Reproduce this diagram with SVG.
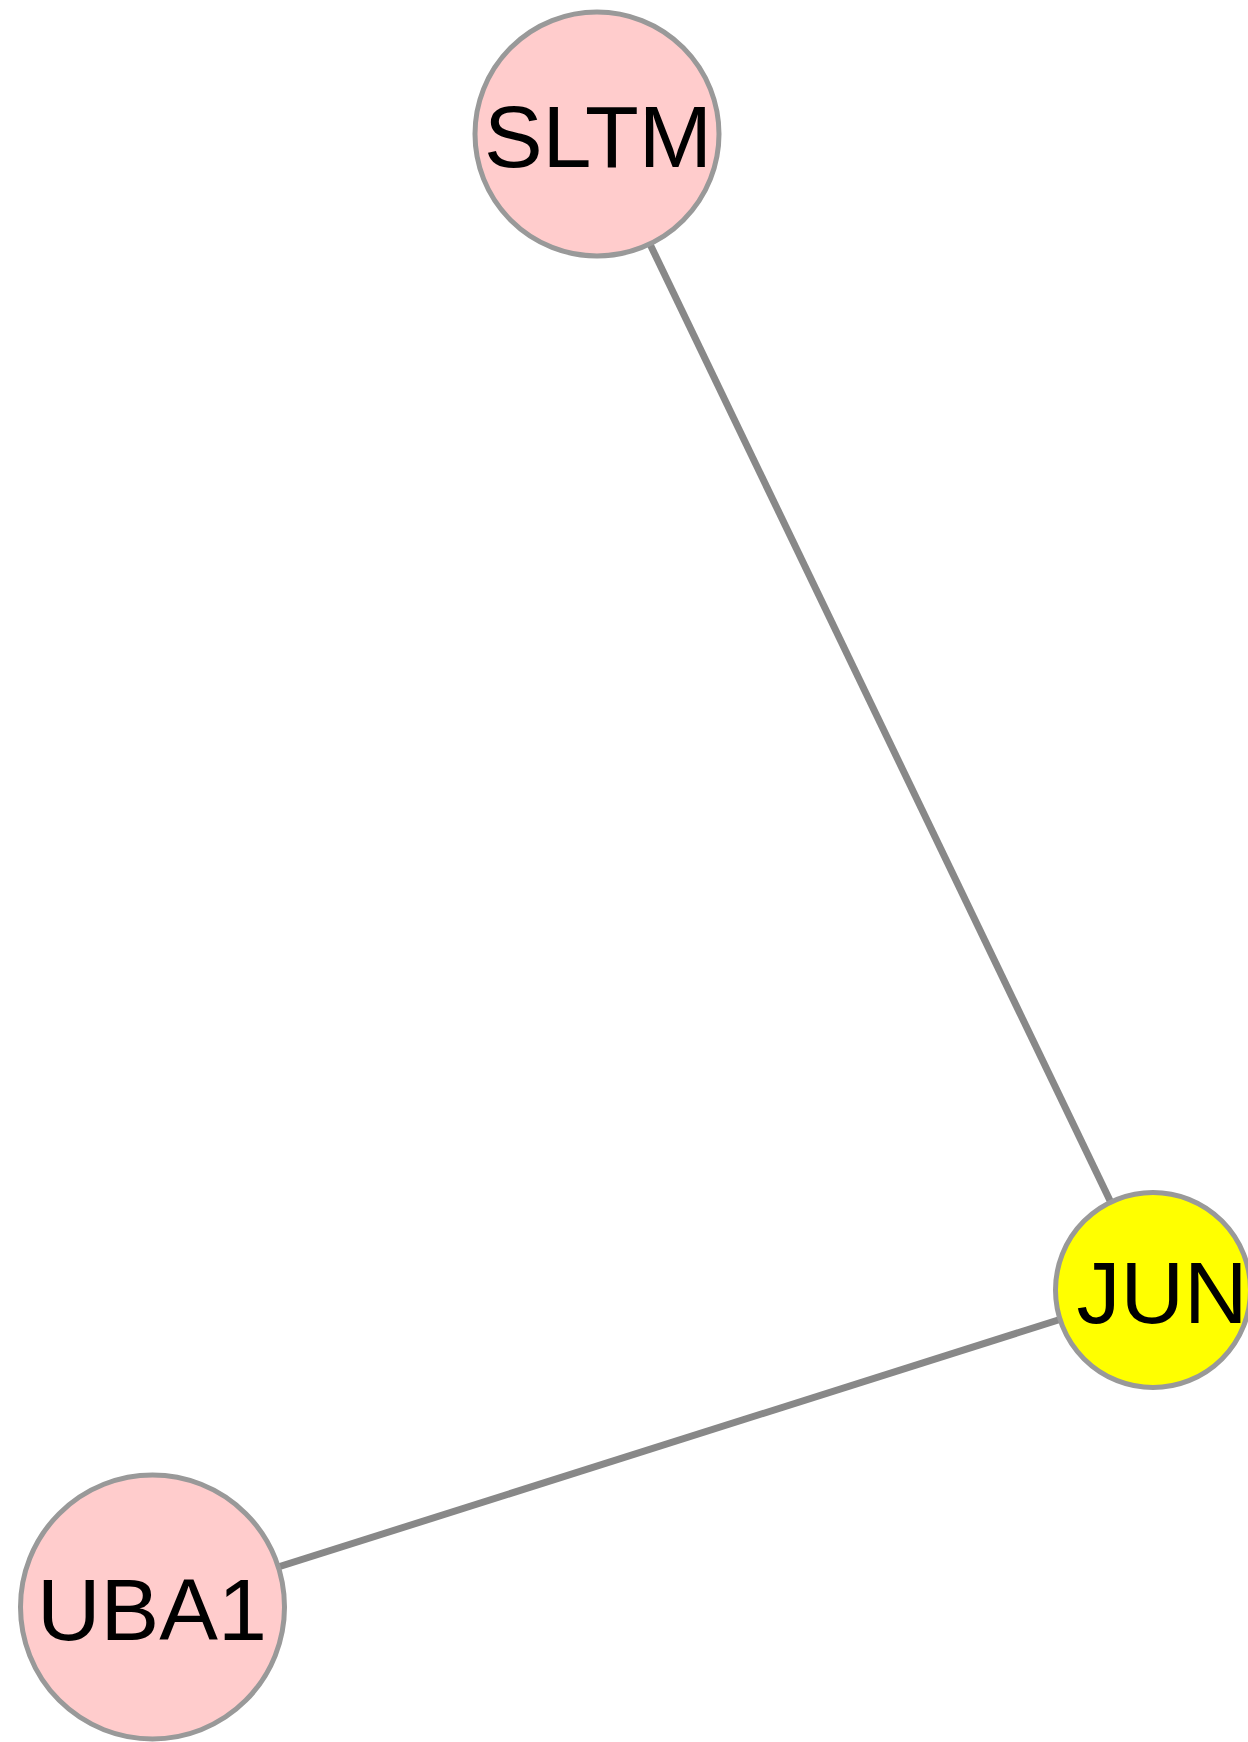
<svg xmlns="http://www.w3.org/2000/svg" width="1248" height="1742" viewBox="0 0 1248 1742">
<style>
.edge{stroke:#888888;stroke-width:7;fill:none}
.node{stroke:#999999;stroke-width:5}
.pink{fill:#FFCCCC}
.yellow{fill:#FFFF00}
.label{font-family:"Liberation Sans",Arial,sans-serif;font-size:88px;fill:#000000;text-anchor:middle}
</style>
<rect width="1248" height="1742" fill="#FFFFFF"/>
<g id="edges">
<line class="edge" x1="597" y1="134" x2="1153" y2="1290"/>
<line class="edge" x1="152" y1="1607" x2="1153" y2="1290"/>
</g>
<g id="SLTM">
<circle class="node pink" cx="597" cy="134" r="122"/>
<text class="label" x="598" y="167">SLTM</text>
</g>
<g id="JUN">
<circle class="node yellow" cx="1153" cy="1290" r="97.5"/>
<text class="label" x="1162" y="1323">JUN</text>
</g>
<g id="UBA1">
<circle class="node pink" cx="152.5" cy="1607" r="132"/>
<text class="label" x="152" y="1640">UBA1</text>
</g>
</svg>
